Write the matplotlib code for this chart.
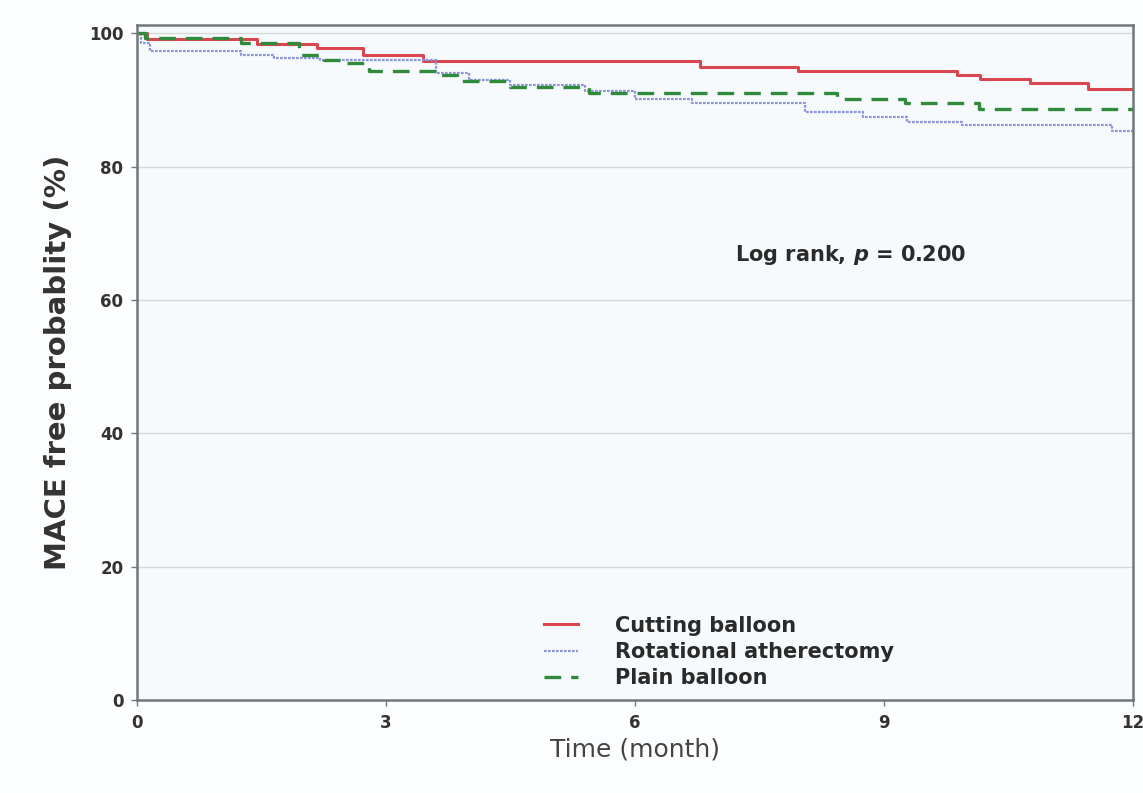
import matplotlib
matplotlib.use("Agg")
import matplotlib.pyplot as plt

# Kaplan-Meier step data (time in months, MACE-free %)
cut_t = [0, 0.12, 1.45, 2.17, 2.72, 3.45, 6.78, 7.96, 9.88, 10.16, 10.76, 11.46, 12]
cut_s = [100, 99.2, 98.4, 97.8, 96.8, 95.8, 95.0, 94.4, 93.8, 93.2, 92.5, 91.7, 91.7]

rot_t = [0, 0.05, 0.15, 1.25, 1.65, 2.2, 3.6, 4.0, 4.5, 5.4, 6.0, 6.69, 8.05, 8.75, 9.28, 9.94, 11.75, 12]
rot_s = [100, 98.5, 97.3, 96.8, 96.3, 96.0, 94.0, 93.0, 92.3, 91.3, 90.2, 89.5, 88.2, 87.4, 86.7, 86.2, 85.3, 85.3]

pla_t = [0, 0.1, 1.25, 1.95, 2.25, 2.5, 2.8, 3.65, 3.85, 4.5, 5.45, 8.43, 9.25, 10.15, 12]
pla_s = [100, 99.3, 98.5, 96.7, 96.0, 95.5, 94.4, 93.8, 92.8, 91.9, 91.0, 90.2, 89.5, 88.6, 88.6]

labels = ["Cutting balloon", "Rotational atherectomy", "Plain balloon"]
x_ticks = [0, 3, 6, 9, 12]
y_ticks = [0, 20, 40, 60, 80, 100]

fig = plt.figure(figsize=(11.43, 7.93), dpi=100)
fig.patch.set_facecolor("#fbfdfe")
ax = fig.add_axes([0.12, 0.117, 0.871, 0.851])
ax.set_facecolor("#f6fafc")

ax.step(cut_t, cut_s, where="post", color="#d9464f", lw=2.2, label=labels[0])
ax.step(rot_t, rot_s, where="post", color="#8c93d6", lw=1.6, ls=(0, (1.2, 0.6)), label=labels[1])
ax.step(pla_t, pla_s, where="post", color="#2f8a3c", lw=2.4, ls=(0, (5, 3)), label=labels[2])

ax.set_xlim(0, 12)
ax.set_ylim(0, 101.2)
ax.set_xticks(x_ticks)
ax.set_yticks(y_ticks)
ax.set_xticklabels([str(v) for v in x_ticks], fontsize=12, fontweight="bold", color="#333333")
ax.set_yticklabels([str(v) for v in y_ticks], fontsize=12, fontweight="bold", color="#333333")
ax.tick_params(axis="both", length=4, width=1, color="#777777", pad=6)
ax.yaxis.grid(True, color="#d8d8d8", lw=1)
ax.set_axisbelow(True)
for sp in ax.spines.values():
    sp.set_color("#6f7a78")
    sp.set_linewidth(1.8)

ax.set_xlabel("Time (month)", fontsize=18, color="#444444", labelpad=4)
ax.set_ylabel("MACE free probablity (%)", fontsize=21, fontweight="bold", color="#333333", labelpad=12)

ax.text(8.6, 66.7, r"Log rank, $\boldsymbol{p}$ = 0.200", fontsize=15, fontweight="bold",
        color="#2a2a2a", ha="center", va="center")

leg = ax.legend(loc="lower left", bbox_to_anchor=(0.39, -0.01), frameon=False,
                prop={"weight": "bold", "size": 15}, handlelength=1.6,
                labelspacing=0.3, handletextpad=1.8)
for t in leg.get_texts():
    t.set_color("#2a2a2a")

fig.savefig("out.png", dpi=100)
